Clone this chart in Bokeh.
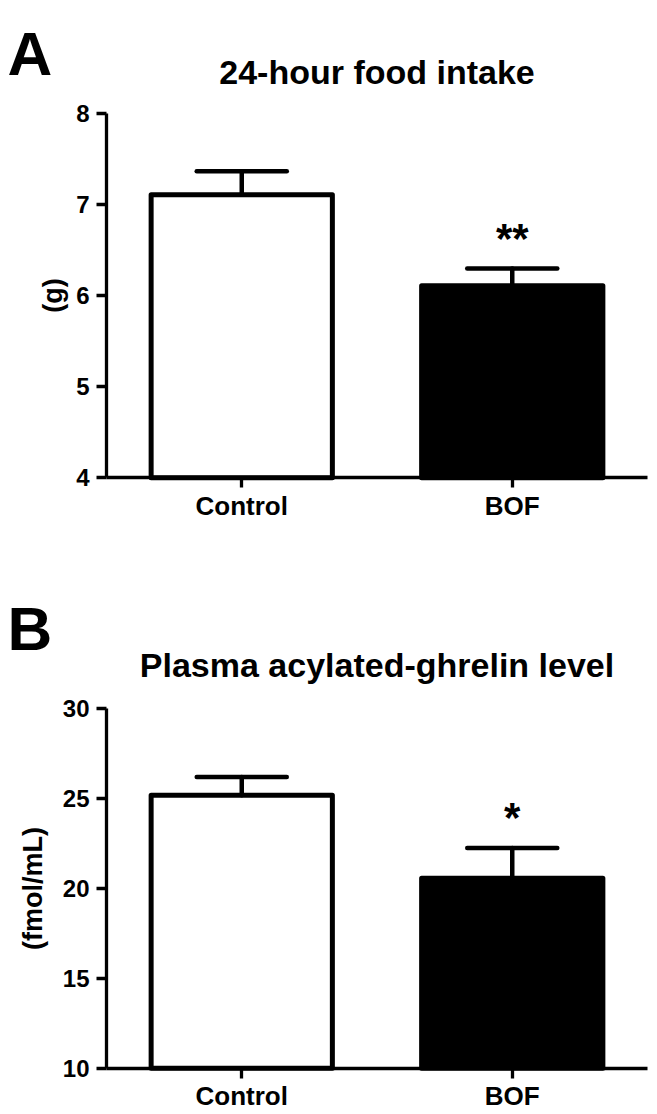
from bokeh.plotting import figure
from bokeh.layouts import column
from bokeh.models import Range1d, FixedTicker, ColumnDataSource, LinearAxis
from bokeh.transform import dodge
from bokeh.core.properties import value
from bokeh.embed import file_html
from bokeh.resources import INLINE

# ---------------- data ----------------
groups = ["Control", "BOF"]
fills = ["white", "black"]

panel_letters = ["A", "B"]
panel_titles = ["24-hour food intake", "Plasma acylated-ghrelin level"]
y_labels = ["(g)", "(fmol/mL)"]

food_mean = [7.11, 6.11]
food_err_top = [7.37, 6.30]
food_sig = ["", "**"]
food_ticks = [4, 5, 6, 7, 8]

ghrelin_mean = [25.16, 20.55]
ghrelin_err_top = [26.18, 22.24]
ghrelin_sig = ["", "*"]
ghrelin_ticks = [10, 15, 20, 25, 30]

FONT = "Liberation Sans"
W = 657
# horizontal geometry (px): y-axis at 106, one category slot = 270.5 px
AX_LEFT = 106
SLOT = 270.5


def panel(letter, title, ylabel, means, tops, sigs, ticks, height, px_per_unit,
          axis_bottom_px, ylab_standoff, letter_y, title_y):
    xpos = [i + 0.5 for i in range(len(groups))]
    src = ColumnDataSource(dict(x=xpos, group=groups, mean=means, top=tops,
                                fill=fills, sig=sigs))
    y0 = ticks[0] - (height - axis_bottom_px) / px_per_unit
    y1 = ticks[0] + axis_bottom_px / px_per_unit
    p = figure(width=W, height=height,
               x_range=Range1d(-AX_LEFT / SLOT, (W - AX_LEFT) / SLOT),
               y_range=Range1d(y0, y1),
               x_axis_type=None, y_axis_type=None, min_border=0,
               toolbar_location=None, output_backend="svg",
               outline_line_color=None, background_fill_color="white",
               border_fill_color="white")
    p.xgrid.visible = False
    p.ygrid.visible = False

    # bars
    p.vbar(x="x", top="mean", bottom=ticks[0], width=0.67, source=src,
           fill_color="fill", line_color="black", line_width=5, line_join="round")
    # error bars (upper only)
    p.segment(x0="x", y0="mean", x1="x", y1="top", source=src,
              line_color="black", line_width=4.5, line_cap="round")
    p.segment(x0=dodge("x", -0.1665), y0="top", x1=dodge("x", 0.1665), y1="top",
              source=src, line_color="black", line_width=4.5, line_cap="round")
    # significance marks
    p.text(x="x", y="top", text="sig", source=src, text_align="center",
           text_baseline="alphabetic", y_offset=-30, text_font=value(FONT),
           text_font_style="bold", text_font_size="42px", text_color="black")

    # panel letter and title
    p.text(x=[-0.366], y=[letter_y], text=[letter], text_align="left",
           text_baseline="alphabetic", text_font=value(FONT), text_font_style="bold",
           text_font_size="62px", text_color="black")
    p.text(x=[len(groups) / 2], y=[title_y], text=[title], text_align="center",
           text_baseline="alphabetic", text_font=value(FONT), text_font_style="bold",
           text_font_size="34px", text_color="black")

    # axes
    yax = LinearAxis(fixed_location=0, bounds=(ticks[0], ticks[-1]),
                     ticker=FixedTicker(ticks=ticks))
    xax = LinearAxis(fixed_location=ticks[0], bounds=(0, len(groups)),
                     ticker=FixedTicker(ticks=xpos),
                     major_label_overrides={xv: g for xv, g in zip(xpos, groups)})
    for ax in (xax, yax):
        ax.axis_line_width = 3.3
        ax.axis_line_color = "black"
        ax.major_tick_line_width = 3.3
        ax.major_tick_line_color = "black"
        ax.major_tick_in = 0
        ax.major_tick_out = 10
        ax.minor_tick_line_color = None
        ax.major_label_text_font = FONT
        ax.major_label_text_font_style = "bold"
        ax.major_label_text_color = "black"
    yax.major_label_standoff = 7
    yax.major_label_text_font_size = "24px"
    yax.axis_label = ylabel
    yax.axis_label_text_font = FONT
    yax.axis_label_text_font_style = "bold"
    yax.axis_label_text_font_size = "27px"
    yax.axis_label_text_color = "black"
    yax.axis_label_standoff = ylab_standoff
    xax.major_label_standoff = 3
    xax.major_label_text_font_size = "26px"
    p.add_layout(yax, "left")
    p.add_layout(xax, "below")
    return p


# panel A: page y 0..525, tick 8 at 113.3, tick 4 at 477.3 (91 px per g)
pa = panel(panel_letters[0], panel_titles[0], y_labels[0], food_mean, food_err_top,
           food_sig, food_ticks, height=525, px_per_unit=91.0, axis_bottom_px=477.3,
           ylab_standoff=5, letter_y=8.6626, title_y=8.457)
# panel B: page y 525..1114, tick 30 at 707.7, tick 10 at 1067.7 (18 px per unit)
pb = panel(panel_letters[1], panel_titles[1], y_labels[1], ghrelin_mean, ghrelin_err_top,
           ghrelin_sig, ghrelin_ticks, height=589, px_per_unit=18.0,
           axis_bottom_px=1067.7 - 525, ylab_standoff=12, letter_y=34.428, title_y=32.411)

layout = column(pa, pb, spacing=0)
open("out.html", "w").write(file_html(layout, INLINE))
